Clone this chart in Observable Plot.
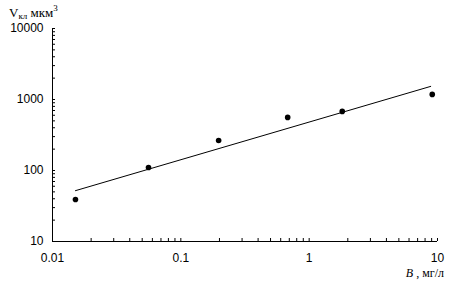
<!DOCTYPE html>
<html>
<head>
<meta charset="utf-8">
<script src="https://cdn.jsdelivr.net/npm/d3@7"></script>
<script src="https://cdn.jsdelivr.net/npm/@observablehq/plot@0.6"></script>
<style>
  html, body { margin: 0; padding: 0; background: #fff; }
</style>
</head>
<body>
<div id="chart"></div>
<script>
// Measured points (B, mg/l ; V, µm³)
const pointB = [0.0151, 0.056, 0.197, 0.68, 1.81, 9.1];
const pointV = [39, 110, 265, 560, 680, 1180];
// Fitted line endpoints
const lineB = [0.0151, 8.85];
const lineV = [52, 1530];
// Tick labels
const xTickLabels = [0.01, 0.1, 1, 10];
const yTickLabels = [10, 100, 1000, 10000];
const minorMultipliers = [1, 2, 3, 4, 5, 6, 7, 8, 9];

const points = pointB.map((b, i) => ({b, v: pointV[i]}));
const line = lineB.map((b, i) => ({b, v: lineV[i]}));
const xMinor = [];
for (const d of [0.01, 0.1, 1]) for (const m of minorMultipliers) xMinor.push(+(d * m).toPrecision(3));
xMinor.push(10);
const yMinor = [];
for (const d of [10, 100, 1000]) for (const m of minorMultipliers) yMinor.push(d * m);
yMinor.push(10000);

const chart = Plot.plot({
  width: 457,
  height: 289,
  marginLeft: 52,
  marginRight: 20,
  marginTop: 28,
  marginBottom: 48,
  style: {fontFamily: "'Liberation Sans', Arial, sans-serif", fontSize: "12px", color: "#000", background: "#fff"},
  x: {type: "log", domain: [0.01, 10]},
  y: {type: "log", domain: [10, 10000]},
  marks: [
    Plot.axisX({ticks: xTickLabels, tickSize: 0, tickPadding: 12, tickFormat: d => String(d), label: null, fontSize: 12}),
    Plot.axisY({ticks: yTickLabels, tickSize: 0, tickPadding: 9, tickFormat: d => String(d), label: null, fontSize: 12}),
    // inward minor/major ticks
    Plot.ruleX(xMinor, {x: d => d, y1: 10, y2: 10, insetBottom: 3, stroke: "#000"}),
    Plot.ruleY(yMinor, {y: d => d, x1: 0.01, x2: 0.01, insetRight: -3, stroke: "#000"}),
    Plot.ruleY([10], {stroke: "#000"}),
    Plot.ruleX([0.01], {stroke: "#000"}),
    Plot.line(line, {x: "b", y: "v", stroke: "#000", strokeWidth: 1}),
    Plot.dot(points, {x: "b", y: "v", r: 2.8, fill: "#000", stroke: "none"})
  ]
});
document.getElementById("chart").appendChild(chart);

// Axis titles with sub/superscripts
const svg = d3.select(chart);
const serif = "'Liberation Serif', 'Times New Roman', serif";
const yt = svg.append("text")
  .attr("x", 9).attr("y", 17).attr("text-anchor", "start")
  .attr("font-family", serif).attr("font-size", 13).attr("fill", "#000");
yt.append("tspan").text("V");
yt.append("tspan").attr("font-size", 9).attr("dy", 2).text("кл");
yt.append("tspan").attr("dy", -2).text(" мкм");
yt.append("tspan").attr("font-size", 9).attr("dy", -6).text("3");

const xt = svg.append("text")
  .attr("x", 444).attr("y", 277).attr("text-anchor", "end")
  .attr("font-family", serif).attr("font-size", 12).attr("fill", "#000");
xt.append("tspan").attr("font-style", "italic").text("B");
xt.append("tspan").text(" , мг/л");
</script>
</body>
</html>
